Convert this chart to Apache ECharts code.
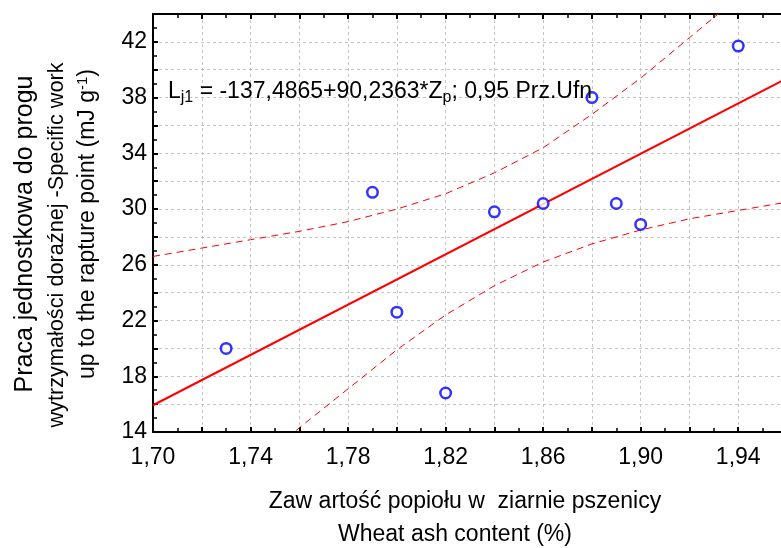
<!DOCTYPE html>
<html><head><meta charset="utf-8">
<script src="https://cdn.jsdelivr.net/npm/echarts@6/dist/echarts.min.js"></script>
<style>html,body{margin:0;padding:0;background:#fff;overflow:hidden}#c{width:781px;height:548px}</style>
</head><body><div id="c"></div>
<script>
// Observed points: ash content (%) vs specific work (mJ g-1)
const ashX = [1.73, 1.79, 1.80, 1.82, 1.84, 1.86, 1.88, 1.89, 1.90, 1.94];
const workY = [20.0, 31.2, 22.6, 16.8, 29.8, 30.4, 38.0, 30.4, 28.9, 41.7];
// Regression line endpoints
const fitX = [1.70, 1.96];
const fitY = [15.92, 39.38];
// 0.95 confidence band
const upperX = [1.70, 1.72, 1.74, 1.76, 1.78, 1.80, 1.82, 1.84, 1.86, 1.88, 1.90, 1.92, 1.94];
const upperY = [26.6, 27.2, 27.8, 28.4, 29.1, 30.0, 31.1, 32.6, 34.4, 36.8, 39.4, 42.3, 45.2];
const lowerX = [1.74, 1.76, 1.78, 1.80, 1.82, 1.84, 1.86, 1.88, 1.90, 1.92, 1.94, 1.96];
const lowerY = [11.3, 14.3, 17.1, 19.9, 22.4, 24.5, 26.2, 27.5, 28.5, 29.3, 29.9, 30.5];
// Tick labels
const xTickLabels = ['1,70', '1,74', '1,78', '1,82', '1,86', '1,90', '1,94'];
const yTickLabels = ['14', '18', '22', '26', '30', '34', '38', '42'];

const FONT = 'Liberation Sans, Arial, sans-serif';
const FS = 23;
const zip = (a, b) => a.map((v, i) => [v, b[i]]);

const chart = echarts.init(document.getElementById('c'), null, {renderer: 'canvas'});
const gridLine = {show: true, lineStyle: {color: '#c4c4c4', type: [3, 3], width: 1}};
const xFmt = v => {
  const s = v.toFixed(2).replace('.', ',');
  return xTickLabels.includes(s) ? s : '';
};
const yFmt = v => {
  const s = String(Math.round(v));
  return yTickLabels.includes(s) ? s : '';
};
const baseX = {
  type: 'value', min: 1.70, max: 1.96, interval: 0.02,
  axisLine: {show: true, onZero: false, lineStyle: {color: '#000', width: 2}},
  axisTick: {show: true, inside: true, length: 5, lineStyle: {color: '#000', width: 2}},
  minorTick: {show: true, splitNumber: 2, length: 4, lineStyle: {color: '#000', width: 1.5}},
};
chart.setOption({
  animation: false,
  backgroundColor: '#fff',
  grid: {left: 153, top: 14, width: 634, height: 418, containLabel: false, outerBoundsMode: 'none'},
  xAxis: [
    Object.assign({}, baseX, {
      position: 'bottom',
      splitLine: gridLine,
      axisLabel: {show: true, formatter: xFmt, color: '#000', fontSize: FS, fontFamily: FONT, margin: 14}
    }),
    Object.assign({}, baseX, {
      position: 'top',
      splitLine: {show: false},
      axisLabel: {show: false}
    })
  ],
  yAxis: {
    type: 'value', min: 14, max: 44, interval: 2,
    axisLine: {show: true, onZero: false, lineStyle: {color: '#000', width: 2}},
    axisTick: {show: true, inside: true, length: 5, lineStyle: {color: '#000', width: 2}},
    minorTick: {show: true, splitNumber: 2, length: 4, lineStyle: {color: '#000', width: 1.5}},
    splitLine: gridLine,
    axisLabel: {show: true, formatter: yFmt, color: '#000', fontSize: FS, fontFamily: FONT, margin: 6}
  },
  series: [
    {type: 'line', data: zip(upperX, upperY), symbol: 'none', clip: true,
     lineStyle: {color: '#ff0000', width: 1, type: [7, 5]}},
    {type: 'line', data: zip(lowerX, lowerY), symbol: 'none', clip: true,
     lineStyle: {color: '#ff0000', width: 1, type: [7, 5]}},
    {type: 'line', data: zip(fitX, fitY), symbol: 'none', clip: true,
     lineStyle: {color: '#ff0000', width: 2}},
    {type: 'scatter', data: zip(ashX, workY), symbol: 'circle', symbolSize: 10.5,
     itemStyle: {color: '#ffffff', borderColor: '#0000ff', borderWidth: 2.5}, z: 5}
  ],
  graphic: [
    {type: 'text', left: 168, top: 80, z: 10,
     style: {
       text: 'L{sub|j1} = -137,4865+90,2363*Z{sub|p}; 0,95 Prz.Ufn',
       font: FS + 'px ' + FONT, fill: '#000',
       rich: {sub: {fontSize: 16, fontFamily: FONT, padding: [13, 0, 0, 0], fill: '#000', color: '#000'}}
     }},
    {type: 'text', x: 465, y: 502, z: 10,
     style: {text: 'Zaw artość popiołu w  ziarnie pszenicy', font: FS + 'px ' + FONT, fill: '#000', align: 'center', verticalAlign: 'middle'}},
    {type: 'text', x: 455, y: 535, z: 10,
     style: {text: 'Wheat ash content (%)', font: FS + 'px ' + FONT, fill: '#000', align: 'center', verticalAlign: 'middle'}},
    {type: 'text', x: 25, y: 234, rotation: Math.PI / 2, z: 10,
     style: {text: 'Praca jednostkowa do progu', font: '25px ' + FONT, fill: '#000', align: 'center', verticalAlign: 'middle'}},
    {type: 'text', x: 57, y: 245, rotation: Math.PI / 2, z: 10,
     style: {text: 'wytrzymałości doraźnej -Specific work', font: '21.7px ' + FONT, fill: '#000', align: 'center', verticalAlign: 'middle'}},
    {type: 'text', x: 88, y: 224, rotation: Math.PI / 2, z: 10,
     style: {text: 'up to the rapture point (mJ g{sup|-1})', font: FS + 'px ' + FONT, fill: '#000', align: 'center', verticalAlign: 'middle',
       rich: {sup: {fontSize: 15, fontFamily: FONT, padding: [0, 0, 11, 0]}}}}
  ]
});
</script></body></html>
